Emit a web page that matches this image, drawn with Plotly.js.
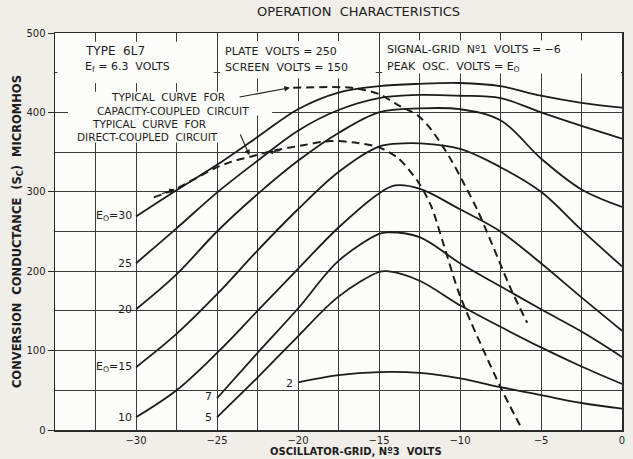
<!DOCTYPE html>
<html>
<head>
<meta charset="utf-8">
<script src="https://cdn.plot.ly/plotly-3.0.1.min.js"></script>
<style>html,body{margin:0;padding:0;background:#f1eee9;}#chart{width:633px;height:459px;}</style>
</head>
<body>
<div id="chart"></div>
<script>
// ---- data ----
const e30x = [-30,-27.5,-25,-22.5,-20,-17.5,-15,-12.5,-10,-7.5,-5,-2.5,0];
const e30y = [269,302,334,369,404,425,433,436,437,433,421,412,406];
const e25x = [-30,-27.5,-25,-22.5,-20,-17.5,-15,-12.5,-10,-7.5,-5,-2.5,0];
const e25y = [210,254,299,339,377,403,418,422,421,418,400,383,367];
const e20x = [-30,-27.5,-25,-22.5,-20,-17.5,-15,-12.5,-10,-7.5,-5,-2.5,0];
const e20y = [152,196,250,297,339,374,400,405,404,390,342,303,281];
const e15x = [-30,-27.5,-25,-22.5,-20,-17.5,-15,-13.5,-12.5,-10,-7.5,-5,-2.5,0];
const e15y = [79,121,171,226,278,325,357,361,361,354,331,300,252,206];
const e10x = [-30,-27.5,-25,-22.5,-20,-17.5,-15,-14,-12.5,-10,-7.5,-5,-2.5,0];
const e10y = [16,50,97,150,203,255,298,308,304,278,250,210,167,125];
const e7x = [-25,-22.5,-20,-17.5,-15,-14.5,-12.5,-10,-7.5,-5,-2.5,0];
const e7y = [40,97,153,213,247,249,243,210,181,152,124,92];
const e5x = [-25,-22.5,-20,-17.5,-15,-14.5,-12.5,-10,-7.5,-5,-2.5,0];
const e5y = [16,66,118,168,199,200,188,157,130,104,80,58];
const e2x = [-20,-17.5,-15,-12.5,-10,-7.5,-5,-2.5,0];
const e2y = [60,69,73,72,65,54,44,34,27];
// dashed "typical" curves
const capX = [-20.3,-16.7,-15,-13.9,-12.6,-11.8,-10.6,-9.8,-8.9,-6.8,-5.85];
const capY = [431,431,423,410,396,379,342,312,276,175,135];
const dirX = [-28.9,-27.6,-26.4,-25.2,-24.1,-22.6,-21.9,-19.6,-18,-16.5,-15,-13.8,-12.6,-11.8,-11,-10,-7.5,-6.3];
const dirY = [293,303,316,329,338,346,350,359,364,362,356,342,313,283,233,169,54,6];
// tick labels
const xTickVals = [-30,-25,-20,-15,-10,-5,0];
const yTickVals = [0,100,200,300,400,500];

const FONT = 'DejaVu Sans, Liberation Sans, sans-serif';
const INK = '#1c1c1c';

function solid(x, y) {
  return {x: x, y: y, type: 'scatter', mode: 'lines', hoverinfo: 'skip',
    line: {color: INK, width: 1.8, shape: 'spline', smoothing: 1}};
}
function dashed(x, y) {
  return {x: x, y: y, type: 'scatter', mode: 'lines', hoverinfo: 'skip',
    line: {color: INK, width: 2, dash: '8px,5px', shape: 'spline', smoothing: 0.8}};
}
const traces = [
  solid(e30x, e30y), solid(e25x, e25y), solid(e20x, e20y), solid(e15x, e15y),
  solid(e10x, e10y), solid(e7x, e7y), solid(e5x, e5y), solid(e2x, e2y),
  dashed(capX, capY), dashed(dirX, dirY)
];

function txt(x, y, text, opts) {
  return Object.assign({x: x, y: y, xref: 'x', yref: 'y', text: text, showarrow: false,
    xanchor: 'left', yanchor: 'middle', font: {family: FONT, size: 11, color: INK}}, opts || {});
}
function arrow(x, y, ax, ay) {
  return {x: x, y: y, ax: ax, ay: ay, xref: 'x', yref: 'y', axref: 'x', ayref: 'y',
    text: '', showarrow: true, arrowhead: 2, arrowsize: 1, arrowwidth: 1.1, arrowcolor: INK};
}
const lbl = {family: FONT, size: 10.5, color: INK};
const annotations = [
  {xref: 'paper', yref: 'paper', x: 0.536, y: 1.053, text: 'OPERATION  CHARACTERISTICS', showarrow: false,
    xanchor: 'center', yanchor: 'middle', font: {family: FONT, size: 13, color: INK}},
  {xref: 'paper', yref: 'paper', x: -0.066, y: 0.5, textangle: -90, showarrow: false,
    text: 'CONVERSION  CONDUCTANCE  (S<sub>C</sub>)  MICROMHOS', xanchor: 'center', yanchor: 'middle',
    font: {family: FONT, size: 11.5, color: INK, weight: 'bold'}},
  {xref: 'x', yref: 'paper', x: -16.4, y: -0.054, showarrow: false,
    text: 'OSCILLATOR-GRID, N\u00BA3  VOLTS', xanchor: 'center', yanchor: 'middle',
    font: {family: FONT, size: 10, color: INK, weight: 'bold'}},
  txt(-33.3, 477, 'TYPE  6L7', {font: {family: FONT, size: 12, color: INK}}),
  txt(-33.3, 457, 'E<sub>f</sub> = 6.3  VOLTS'),
  txt(-24.6, 477, 'PLATE  VOLTS = 250'),
  txt(-24.6, 457, 'SCREEN  VOLTS = 150'),
  txt(-14.6, 479, 'SIGNAL-GRID  N\u00BA1  VOLTS = \u22126'),
  txt(-14.6, 457, 'PEAK  OSC.  VOLTS = E<sub>O</sub>'),
  txt(-28.0, 419, 'TYPICAL  CURVE  FOR', {xanchor: 'center', font: lbl}),
  txt(-27.7, 402, 'CAPACITY-COUPLED  CIRCUIT', {xanchor: 'center', font: lbl}),
  txt(-29.2, 385, 'TYPICAL  CURVE  FOR', {xanchor: 'center', font: lbl}),
  txt(-29.3, 369, 'DIRECT-COUPLED  CIRCUIT', {xanchor: 'center', font: lbl}),
  arrow(-20.5, 431, -23.7, 419),
  arrow(-23.0, 346, -23.6, 374),
  arrow(-27.6, 303, -28.5, 297),
  arrow(-21.9, 350, -21.0, 352),
  // curve labels
  txt(-30.15, 269, 'E<sub>O</sub>=30', {xanchor: 'right'}),
  txt(-30.15, 210, '25', {xanchor: 'right'}),
  txt(-30.15, 152, '20', {xanchor: 'right'}),
  txt(-30.15, 79, 'E<sub>O</sub>=15', {xanchor: 'right'}),
  txt(-30.15, 16, '10', {xanchor: 'right'}),
  txt(-25.2, 42, '7', {xanchor: 'right'}),
  txt(-25.2, 16, '5', {xanchor: 'right'}),
  txt(-20.2, 59, '2', {xanchor: 'right'})
];

function cover(x0, x1, y0, y1) {
  return {type: 'rect', xref: 'x', yref: 'y', x0: x0, x1: x1, y0: y0, y1: y1,
    fillcolor: '#fcfcfa', line: {width: 0}, layer: 'between'};
}
const shapes = [
  cover(-34.85, -25.2, 437, 489),
  cover(-24.8, -15.2, 443, 490),
  cover(-14.8, -0.06, 449, 491),
  cover(-34.2, -23.5, 362, 426),
  cover(-23.5, -21.6, 396, 426)
];

const layout = {
  width: 633, height: 459,
  margin: {l: 55, r: 11, t: 33, b: 29},
  paper_bgcolor: '#f1eee9', plot_bgcolor: '#fcfcfa',
  showlegend: false,
  font: {family: FONT, color: INK},
  xaxis: {range: [-35, 0], tickvals: xTickVals, showgrid: true, gridcolor: '#3a3a3a', gridwidth: 1,
    minor: {tickmode: 'linear', tick0: 0, dtick: 2.5, showgrid: true, gridcolor: '#3a3a3a', gridwidth: 1},
    zeroline: false, showline: true, mirror: true, linecolor: '#2a2a2a', linewidth: 1.5,
    ticks: '', tickfont: {family: FONT, size: 10, color: INK}, fixedrange: true},
  yaxis: {range: [0, 500], tickvals: yTickVals, showgrid: true, gridcolor: '#3a3a3a', gridwidth: 1,
    minor: {tickmode: 'linear', tick0: 0, dtick: 50, showgrid: true, gridcolor: '#3a3a3a', gridwidth: 1},
    zeroline: false, showline: true, mirror: true, linecolor: '#2a2a2a', linewidth: 1.5,
    ticks: 'outside', ticklen: 6, tickcolor: '#2a2a2a', tickfont: {family: FONT, size: 10, color: INK}, fixedrange: true},
  annotations: annotations,
  shapes: shapes
};
Plotly.newPlot('chart', traces, layout, {displayModeBar: false, staticPlot: true});
</script>
</body>
</html>
